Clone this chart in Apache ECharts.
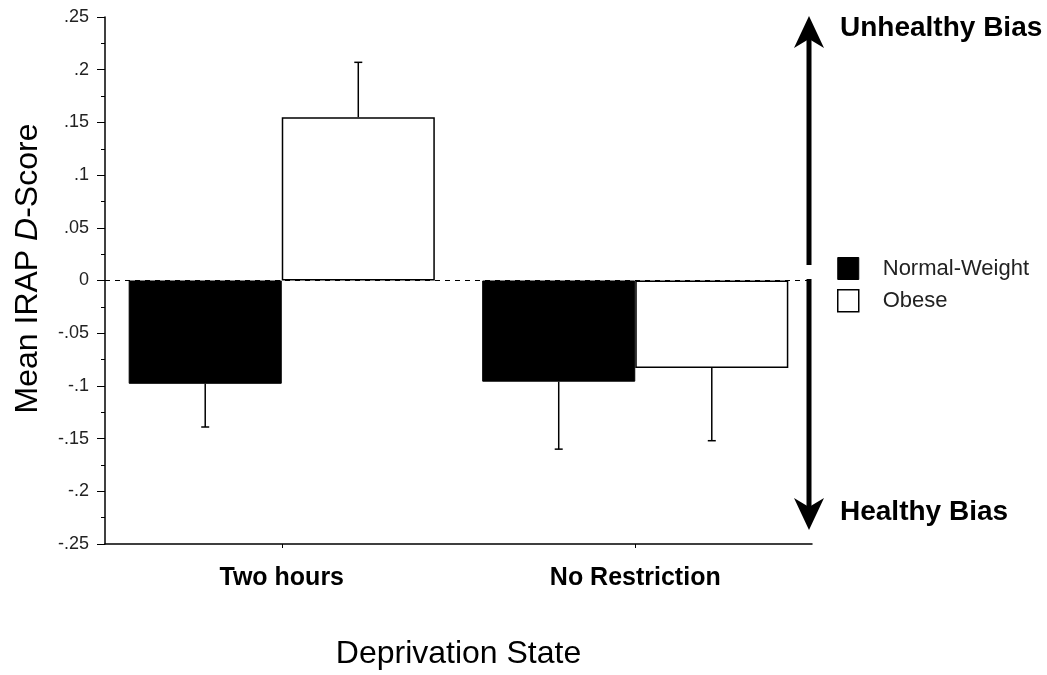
<!DOCTYPE html>
<html>
<head>
<meta charset="utf-8">
<title>Mean IRAP D-Score by Deprivation State</title>
<script src="https://cdn.jsdelivr.net/npm/echarts@6/dist/echarts.min.js"></script>
<style>
  html, body { margin: 0; padding: 0; background: #fff; }
  #chart { width: 1047px; height: 675px; }
</style>
</head>
<body>
<div id="chart"></div>
<script>
// data
var categories = ['Two hours', 'No Restriction'];
var seriesNames = ['Normal-Weight', 'Obese'];
var normalMeans = [-0.098, -0.096];
var normalErrors = [0.041, 0.064];
var obeseMeans = [0.155, -0.083];
var obeseErrors = [0.052, 0.069];
var yTickValues = [0.25, 0.2, 0.15, 0.1, 0.05, 0, -0.05, -0.1, -0.15, -0.2, -0.25];
var yTickLabels = ['.25', '.2', '.15', '.1', '.05', '0', '-.05', '-.1', '-.15', '-.2', '-.25'];

var FONT = '"Liberation Sans", Arial, sans-serif';
var GAP = 0.134; // barCategoryGap as a fraction

function tickLabel(v) {
  for (var i = 0; i < yTickValues.length; i++) {
    if (Math.abs(yTickValues[i] - v) < 1e-6) return yTickLabels[i];
  }
  return '';
}

function errorData(means, errs) {
  return means.map(function (m, i) { return [i, m, errs[i]]; });
}

// draws one-sided error bars on top of the grouped bars
function errorRenderer(side) {
  return function (params, api) {
    var cat = api.value(0), mean = api.value(1), err = api.value(2);
    var bandW = api.size([1, 0])[0];
    var barW = bandW * (1 - GAP) / 2;
    var base = api.coord([cat, mean]);
    var tip = api.coord([cat, mean + (mean >= 0 ? err : -err)]);
    var x = base[0] + side * barW / 2;
    var st = { stroke: '#000', lineWidth: 1.5 };
    return {
      type: 'group',
      children: [
        { type: 'line', shape: { x1: x, y1: base[1], x2: x, y2: tip[1] }, style: st },
        { type: 'line', shape: { x1: x - 4, y1: tip[1], x2: x + 4, y2: tip[1] }, style: st }
      ]
    };
  };
}

var myChart = echarts.init(document.getElementById('chart'));

var option = {
  backgroundColor: '#fff',
  animation: false,
  textStyle: { fontFamily: FONT },
  grid: { left: 105, right: 235, top: 17, bottom: 130, containLabel: false },
  legend: {
    orient: 'vertical',
    left: 832,
    top: 252,
    itemWidth: 21,
    itemHeight: 22,
    itemGap: 9,
    selectedMode: false,
    textStyle: { fontFamily: FONT, fontSize: 22, color: '#222', padding: [0, 0, 0, 19] },
    data: [
      { name: seriesNames[0], icon: 'rect', itemStyle: { color: '#000', borderColor: '#000', borderWidth: 1 } },
      { name: seriesNames[1], icon: 'rect', itemStyle: { color: '#fff', borderColor: '#000', borderWidth: 1.5 } }
    ]
  },
  xAxis: {
    type: 'category',
    data: categories,
    name: 'Deprivation State',
    nameLocation: 'middle',
    nameGap: 94,
    nameTextStyle: { fontFamily: FONT, fontSize: 32, color: '#000' },
    axisLine: { onZero: false, lineStyle: { color: '#000', width: 1.5 } },
    axisTick: { show: true, alignWithLabel: true, length: 4, lineStyle: { color: '#000' } },
    axisLabel: { margin: 22, fontFamily: FONT, fontSize: 25, fontWeight: 'bold', color: '#000' },
    splitLine: { show: false }
  },
  yAxis: {
    type: 'value',
    min: -0.25,
    max: 0.25,
    interval: 0.05,
    name: '{a|Mean IRAP }{i|D}{a|-Score}',
    nameLocation: 'middle',
    nameRotate: 90,
    nameGap: 61,
    nameTextStyle: {
      padding: [0, 0, 0, 24],
      rich: {
        a: { fontFamily: FONT, fontSize: 32, color: '#000' },
        i: { fontFamily: FONT, fontSize: 32, fontStyle: 'italic', color: '#000' }
      }
    },
    axisLine: { show: true, lineStyle: { color: '#000', width: 1.5 } },
    axisTick: { show: true, inside: false, length: 8, lineStyle: { color: '#000' } },
    minorTick: { show: true, splitNumber: 2, length: 4, lineStyle: { color: '#000' } },
    axisLabel: { margin: 16, fontFamily: FONT, fontSize: 18, color: '#222', formatter: tickLabel },
    splitLine: { show: false }
  },
  series: [
    {
      name: seriesNames[0],
      type: 'bar',
      data: normalMeans,
      barGap: '0%',
      barCategoryGap: (GAP * 100) + '%',
      itemStyle: { color: '#000', borderColor: '#000', borderWidth: 1 },
      markLine: {
        silent: true,
        symbol: 'none',
        label: { show: false },
        lineStyle: { color: '#000', type: [5, 5], width: 1 },
        data: [{ yAxis: 0 }]
      }
    },
    {
      name: seriesNames[1],
      type: 'bar',
      data: obeseMeans,
      barGap: '0%',
      barCategoryGap: (GAP * 100) + '%',
      itemStyle: { color: '#fff', borderColor: '#000', borderWidth: 1.5 }
    },
    {
      type: 'custom',
      name: 'normal-err',
      renderItem: errorRenderer(-1),
      data: errorData(normalMeans, normalErrors),
      encode: { x: 0, y: 1 },
      z: 3
    },
    {
      type: 'custom',
      name: 'obese-err',
      renderItem: errorRenderer(1),
      data: errorData(obeseMeans, obeseErrors),
      encode: { x: 0, y: 1 },
      z: 3
    }
  ],
  graphic: [
    // bias arrows on the right
    { type: 'rect', shape: { x: 806.5, y: 30, width: 5, height: 235 }, style: { fill: '#000' } },
    { type: 'polygon', shape: { points: [[809, 16], [824, 48], [809, 39], [794, 48]] }, style: { fill: '#000' } },
    { type: 'rect', shape: { x: 806.5, y: 279, width: 5, height: 237 }, style: { fill: '#000' } },
    { type: 'polygon', shape: { points: [[809, 530], [824, 498], [809, 507], [794, 498]] }, style: { fill: '#000' } },
    {
      type: 'text', left: 840, top: 14,
      style: { text: 'Unhealthy Bias', font: 'bold 28px ' + FONT, fill: '#000' }
    },
    {
      type: 'text', left: 840, top: 498,
      style: { text: 'Healthy Bias', font: 'bold 28px ' + FONT, fill: '#000' }
    }
  ]
};

myChart.setOption(option);
</script>
</body>
</html>
